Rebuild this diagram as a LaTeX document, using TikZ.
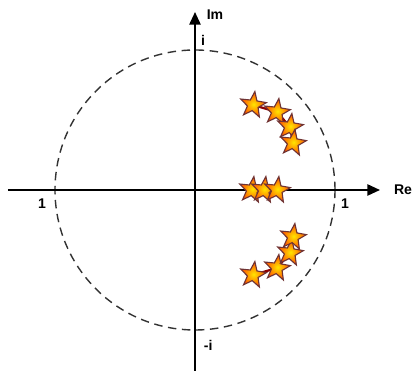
\documentclass[tikz,border=0pt]{standalone}
\usepackage{fontspec}
\setmainfont{Liberation Sans}
\usetikzlibrary{arrows.meta,shapes.geometric}

\begin{document}
\begin{tikzpicture}[
  line width=1.3pt,
  % axes end in a filled triangle
  axis/.style={-{Triangle[length=9pt,width=8pt]}},
  unitcircle/.style={line width=1pt,dash pattern=on 6pt off 4pt,black!80},
  % a pole: a five-pointed star, yellow in the middle, orange to the rim
  pole/.style={star,star points=5,star point ratio=2.4,minimum size=0.68cm,
               inner sep=0pt,line width=0.8pt,draw=red!30!black!80,
               shape border rotate=-8,
               shading=radial,inner color=yellow!80!orange,outer color=orange!60!red},
  trail/.style={line width=1.6pt,red!55!black},
  lbl/.style={font=\fontsize{10}{12}\selectfont\bfseries,inner sep=1pt},
]

%--- frame --------------------------------------------------------------------
\useasboundingbox (-4.875,-4.525) rectangle (5.475,4.75);

%--- geometry -----------------------------------------------------------------
\def\R{3.5}            % radius of the unit circle

\coordinate (o)   at (0,0);
\coordinate (xl)  at (-4.675,0);
\coordinate (xr)  at (4.625,0);
\coordinate (yb)  at (0,-4.525);
\coordinate (yt)  at (0,4.45);

%--- unit circle and axes -----------------------------------------------------
\draw[unitcircle] (o) circle (\R);
\draw[axis] (xl) -- (xr);
\draw[axis] (yb) -- (yt);

\node[lbl] (re) at (5.2,0)        {Re};
\node[lbl] (im) at (0.5,4.375)    {Im};
\node[lbl] (one1) at (-3.825,-0.33) {1};
\node[lbl] (one2) at (3.75,-0.33)   {1};
\node[lbl] (pi)  at (0.2,3.75)    {i};
\node[lbl] (mi)  at (0.33,-3.875) {-i};

%--- poles --------------------------------------------------------------------
% upper branch, mirrored below the real axis
\foreach \n/\x/\y in {1/1.45/2.125, 2/2.05/1.95, 3/2.375/1.575, 4/2.45/1.175} {
  \coordinate (u\n) at (\x,\y);
  \coordinate (l\n) at (\x,-\y);
}
\coordinate (r1) at (1.425,0);
\coordinate (r2) at (1.725,0);
\coordinate (r3) at (2.05,0);

\draw[trail] (u1) -- (u2) -- (u3) -- (u4);
\draw[trail] (l1) -- (l2) -- (l3) -- (l4);
\draw[trail] (r1) -- (r3);

\foreach \n in {1,...,4} {
  \node[pole] (pu\n) at (u\n) {};
  \node[pole] (pl\n) at (l\n) {};
}
\foreach \n in {1,...,3}
  \node[pole] (pr\n) at (r\n) {};

\end{tikzpicture}
\end{document}
